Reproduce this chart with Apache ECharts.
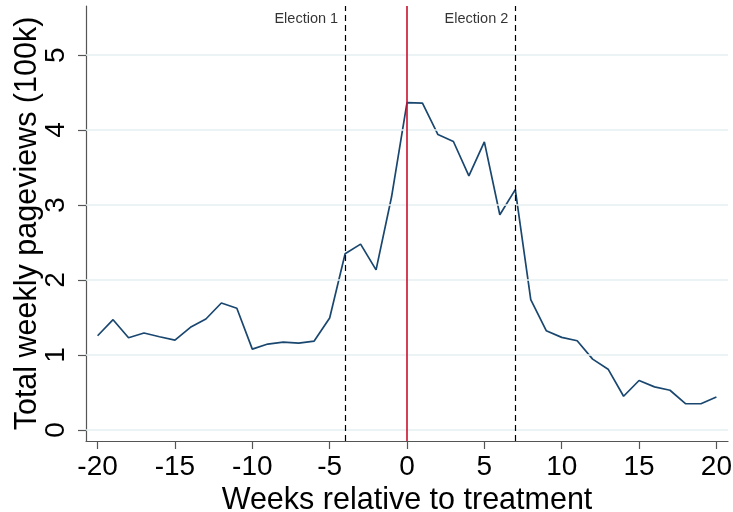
<!DOCTYPE html>
<html><head><meta charset="utf-8">
<script src="https://cdn.jsdelivr.net/npm/echarts@6/dist/echarts.min.js"></script>
<style>html,body{margin:0;padding:0;background:#fff}#c{width:733px;height:512px}</style>
</head><body><div id="c"></div>
<script>
const weeks = [-20,-19,-18,-17,-16,-15,-14,-13,-12,-11,-10,-9,-8,-7,-6,-5,-4,-3,-2,-1,0,1,2,3,4,5,6,7,8,9,10,11,12,13,14,15,16,17,18,19,20];
const pageviews = [1.257,1.471,1.23,1.293,1.244,1.199,1.369,1.48,1.694,1.623,1.079,1.146,1.172,1.159,1.186,1.494,2.35,2.479,2.135,3.107,4.365,4.36,3.941,3.848,3.388,3.843,2.871,3.206,1.739,1.324,1.235,1.19,0.945,0.811,0.45,0.66,0.575,0.53,0.352,0.35,0.441];
const xTicks = [-20,-15,-10,-5,0,5,10,15,20];
const yTicks = [0,1,2,3,4,5];
const electionWeeks = [-4, 7];
const electionLabels = ['Election 1', 'Election 2'];
const treatmentWeek = 0;
const labelY = 5.48;

const chart = echarts.init(document.getElementById('c'));
const font = 'Liberation Sans, Arial, Helvetica, sans-serif';
chart.setOption({
  animation: false,
  grid: {left: 86, right: 5, top: 6, bottom: 71, containLabel: false, outerBoundsMode: 'none'},
  xAxis: {
    type: 'value', min: -20.75, max: 20.75,
    name: 'Weeks relative to treatment', nameLocation: 'middle', nameGap: 44,
    nameMoveOverlap: false,
    nameTextStyle: {fontSize: 30.5, color: '#000', fontFamily: font},
    axisLine: {show: true, onZero: false, lineStyle: {color: '#555', width: 1.2}},
    axisTick: {show: true, length: 8, lineStyle: {color: '#555', width: 1.2}, customValues: xTicks},
    axisLabel: {fontSize: 28, color: '#000', fontFamily: font, margin: 12, customValues: xTicks},
    splitLine: {show: false}
  },
  yAxis: {
    type: 'value', min: -0.147, max: 5.655,
    name: 'Total weekly pageviews (100k)', nameLocation: 'middle', nameGap: 43, nameRotate: 90,
    nameMoveOverlap: false,
    nameTextStyle: {fontSize: 30.5, color: '#000', fontFamily: font},
    axisLine: {show: true, onZero: false, lineStyle: {color: '#555', width: 1.2}},
    axisTick: {show: true, length: 8, lineStyle: {color: '#555', width: 1.2}, customValues: yTicks},
    axisLabel: {fontSize: 28, color: '#000', fontFamily: font, rotate: 90, margin: 16, customValues: yTicks},
    splitLine: {show: false}
  },
  series: [
    {
      type: 'line', data: [], z: 1, silent: true,
      markLine: {
        silent: true, symbol: 'none', animation: false,
        label: {show: false},
        lineStyle: {color: '#e6eff1', width: 1.5, type: 'solid'},
        data: yTicks.map(v => ({yAxis: v}))
      }
    },
    {
      type: 'line', data: [], z: 3, silent: true,
      markLine: {
        silent: true, symbol: 'none', animation: false,
        label: {show: false},
        data: electionWeeks.map(v => ({xAxis: v, lineStyle: {color: '#000', width: 1.2, type: [6, 4]}}))
          .concat([{xAxis: treatmentWeek, lineStyle: {color: '#c8102e', width: 1.6, type: 'solid'}}])
      }
    },
    {
      type: 'line', z: 4,
      data: weeks.map((w, i) => [w, pageviews[i]]),
      showSymbol: false, symbol: 'none',
      lineStyle: {color: '#1a476f', width: 1.7}
    },
    {
      type: 'scatter', z: 5, symbolSize: 0, silent: true,
      data: electionWeeks.map((w, i) => ({value: [w, labelY], name: electionLabels[i]})),
      label: {show: true, position: 'left', distance: 7, formatter: p => p.name,
        fontSize: 14.5, color: '#000', fontFamily: font}
    }
  ]
});
</script></body></html>
